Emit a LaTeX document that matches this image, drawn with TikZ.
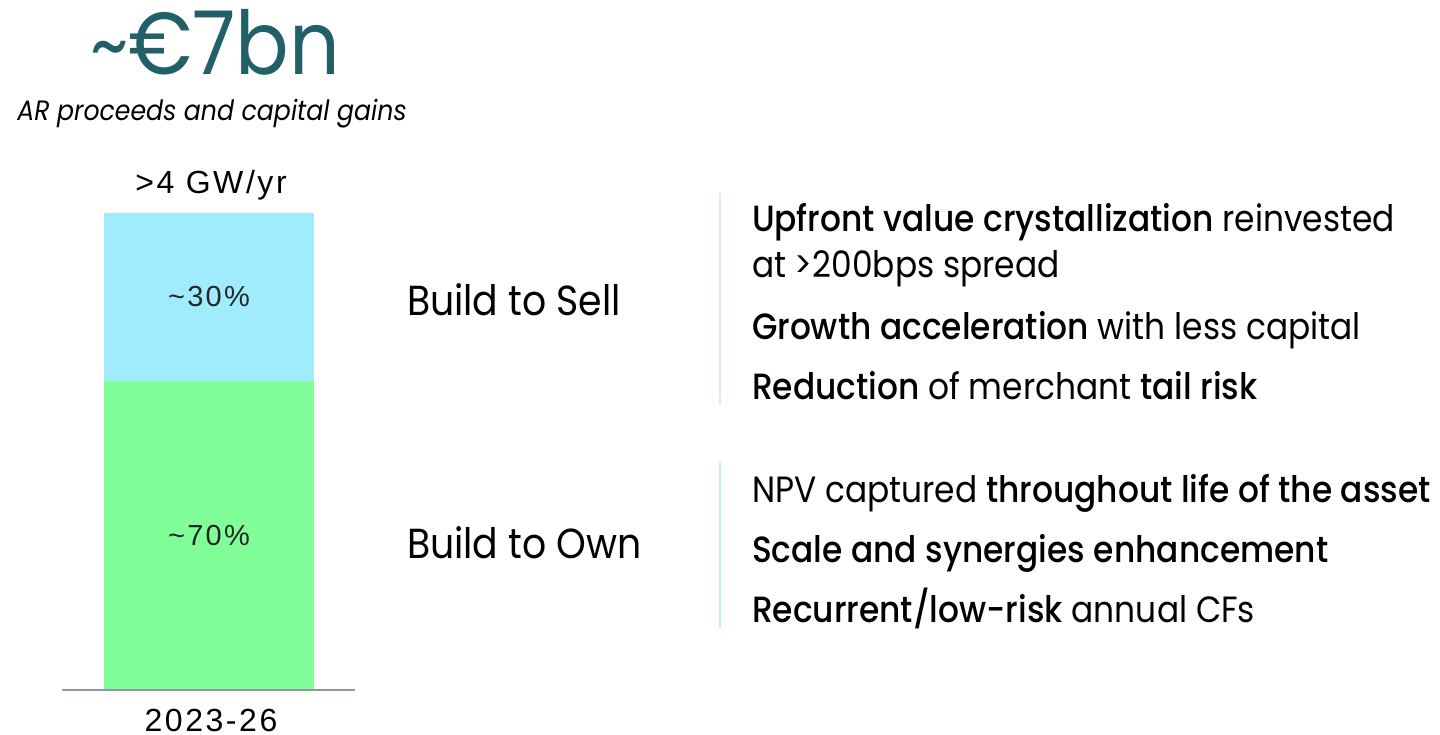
\documentclass[tikz,border=0pt]{standalone}
\usepackage{fontspec}
\setmainfont{Poppins}[FakeStretch=0.9, BoldFont={* Medium}]
\newfontfamily\barfont{Liberation Sans}[LetterSpace=8]
\usetikzlibrary{positioning}

\definecolor{titleteal}{RGB}{33,96,102}
\definecolor{sellblue}{RGB}{160,236,252}
\definecolor{owngreen}{RGB}{128,255,153}
\definecolor{axisgray}{RGB}{138,155,160}
\definecolor{sellline}{RGB}{212,238,244}
\definecolor{ownline}{RGB}{198,246,210}

\begin{document}
\begin{tikzpicture}[x=1pt, y=-1pt,
    every node/.style={inner sep=0pt, outer sep=0pt},
    barlabel/.style={font=\barfont\fontsize{29}{33}\selectfont, text=black!85},
    modelname/.style={anchor=base west, font=\fontsize{42}{48}\selectfont},
    point/.style={anchor=base west, align=left, font=\fontsize{36.5}{46}\selectfont},
    sepline/.style={line width=1.2pt}]
  \useasboundingbox (0,0) rectangle (1440,735);

  % headline
  \node[anchor=base west, font=\fontsize{88}{92}\selectfont, text=titleteal] (total) at (90,75) {{\fontsize{82}{82}\selectfont\raisebox{1pt}{\textasciitilde}}€7bn};
  \node[anchor=base, font=\itshape\fontsize{28}{32}\selectfont] (subtitle) at (212,121) {AR proceeds and capital gains};

  % stacked bar
  \node[fill=sellblue, minimum width=210pt, minimum height=168pt, anchor=north west, barlabel] (sellbar) at (104,213) {\textasciitilde30\%};
  \node[fill=owngreen, minimum width=210pt, minimum height=309pt, anchor=north, barlabel] (ownbar) at (sellbar.south) {\textasciitilde70\%};
  \node[anchor=base, font=\barfont\fontsize{32}{36}\selectfont] (capacity) at (211,194) {>4 GW/yr};
  \node[anchor=base, font=\barfont\fontsize{32}{36}\selectfont] (period) at (211,731) {2023-26};
  \coordinate (axisleft) at (62,690);
  \coordinate (axisright) at (355,690);
  \draw[axisgray, line width=2pt] (axisleft) -- (axisright);

  % models
  \node[modelname] (sell) at (407,316) {Build to Sell};
  \node[modelname] (own) at (407,558) {Build to Own};

  % separators
  \coordinate (selltop) at (720,193);
  \coordinate (sellbottom) at (720,405);
  \coordinate (owntop) at (720,462);
  \coordinate (ownbottom) at (720,628);
  \draw[sepline, sellline] (selltop) -- (sellbottom);
  \draw[sepline, ownline] (owntop) -- (ownbottom);

  % sell points
  \node[point] (sellone) at (752,278) {\textbf{Upfront value crystallization} reinvested\\at >200bps spread};
  \node[point] (selltwo) at (752,339) {\textbf{Growth acceleration} with less capital};
  \node[point] (sellthree) at (752,399) {\textbf{Reduction} of merchant \textbf{tail risk}};

  % own points
  \node[point] (ownone) at (752,502) {NPV captured \textbf{throughout life of the asset}};
  \node[point] (owntwo) at (752,562) {\textbf{Scale and synergies enhancement}};
  \node[point] (ownthree) at (752,622) {\textbf{Recurrent/low-risk} annual CFs};
\end{tikzpicture}
\end{document}
